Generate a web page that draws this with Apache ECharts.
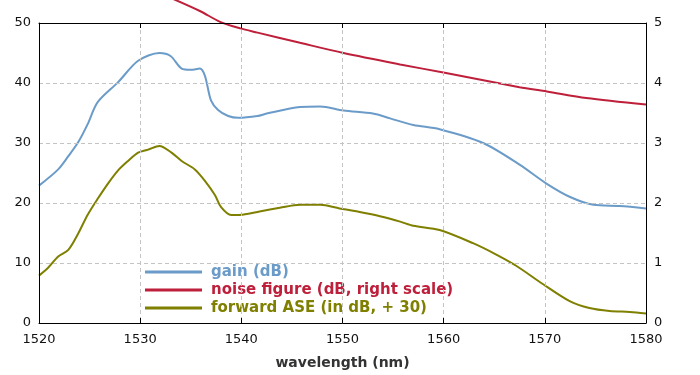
<!DOCTYPE html>
<html>
<head>
<meta charset="utf-8">
<script src="https://cdn.jsdelivr.net/npm/echarts@6/dist/echarts.min.js"></script>
<style>
  html, body { margin: 0; padding: 0; background: #fff; }
  #chart { width: 700px; height: 375px; }
</style>
</head>
<body>
<div id="chart"></div>
<script>
// wavelength (nm), value pairs
const gainData = [
  [1520, 22.9], [1521.9, 25.6], [1522.9, 27.8], [1523.9, 30.2], [1524.8, 33.1], [1525.8, 36.8],
  [1527.8, 40.1], [1529.8, 43.7], [1531.9, 45.0], [1533.0, 44.5], [1534.1, 42.4], [1535.0, 42.2],
  [1535.9, 42.4], [1536.4, 41.2], [1537.0, 37.1], [1537.7, 35.5], [1538.7, 34.5],
  [1539.7, 34.2], [1541.6, 34.5], [1542.5, 34.9], [1545.8, 36.0], [1547.8, 36.1],
  [1550.1, 35.4], [1553.0, 34.9], [1554.7, 34.1], [1557.0, 33.0], [1559.6, 32.3],
  [1563.9, 30.0], [1567.5, 26.4], [1570.2, 23.2], [1572.5, 21.0],
  [1574.8, 19.7], [1577.4, 19.5], [1580, 19.1]
];
const noiseData = [
  [1533.0, 5.42], [1535.9, 5.20], [1537.9, 5.02], [1539.9, 4.91], [1541.6, 4.84],
  [1545.8, 4.67], [1550.1, 4.50], [1555.7, 4.31], [1560.1, 4.17], [1567.5, 3.93],
  [1570.2, 3.86], [1574.1, 3.75], [1580, 3.64]
];
const aseData = [
  [1520, 7.9], [1520.9, 9.2], [1521.9, 11.1], [1522.9, 12.2], [1523.9, 15.0],
  [1524.8, 18.0], [1525.8, 20.7], [1526.8, 23.2], [1527.8, 25.4], [1528.8, 27.0],
  [1529.8, 28.4], [1530.8, 28.9], [1531.9, 29.5], [1533.1, 28.4], [1534.1, 27.0],
  [1535.4, 25.6], [1536.4, 23.7], [1537.4, 21.3], [1538.0, 19.3], [1539.0, 18.0],
  [1539.7, 18.0], [1540.7, 18.2], [1541.8, 18.6], [1543.8, 19.2], [1545.8, 19.7],
  [1547.8, 19.7], [1549.7, 19.1], [1551.7, 18.5], [1553.7, 17.8], [1555.7, 16.9],
  [1557.0, 16.2], [1559.6, 15.5], [1562.9, 13.3], [1565.2, 11.4],
  [1567.2, 9.5], [1569.8, 6.5], [1572.5, 3.6], [1574.4, 2.5], [1576.4, 2.0],
  [1578.4, 1.85], [1580, 1.6]
];
const seriesNames = ["gain (dB)", "noise figure (dB, right scale)", "forward ASE (in dB, + 30)"];
const seriesColors = ["#6b9bc8", "#be1f3a", "#7f7f00"];

const chart = echarts.init(document.getElementById("chart"));
const font = "DejaVu Sans, Verdana, sans-serif";
const splitStyle = { show: true, lineStyle: { color: "#c4c4c4", type: [4, 3], width: 1 } };
const frame = { show: true, onZero: false, lineStyle: { color: "#000", width: 1 } };

chart.setOption({
  animation: false,
  grid: { left: 39, right: 54, top: 23, bottom: 47 },
  legend: {
    orient: "vertical",
    left: 140,
    top: 258,
    itemWidth: 57,
    itemHeight: 3,
    itemGap: 0,
    icon: "rect",
    textStyle: { fontFamily: font, fontSize: 15, fontWeight: "bold", lineHeight: 18, padding: [0, 0, 0, 4] },
    data: seriesNames.map((n, i) => ({ name: n, textStyle: { color: seriesColors[i] } }))
  },
  xAxis: [
    {
      type: "value", min: 1520, max: 1580, interval: 10, z: 5,
      name: "wavelength (nm)", nameLocation: "middle", nameGap: 33,
      nameTextStyle: { fontFamily: font, fontSize: 14, fontWeight: "bold", color: "#333" },
      axisLine: frame,
      axisTick: { inside: true, length: 5, lineStyle: { color: "#000" } },
      axisLabel: { fontFamily: font, fontSize: 13, color: "#111", margin: 10, formatter: v => String(v) },
      splitLine: splitStyle
    },
    {
      type: "value", position: "top", min: 1520, max: 1580, interval: 10, z: 5,
      axisLine: frame,
      axisTick: { inside: true, length: 5, lineStyle: { color: "#000" } },
      axisLabel: { show: false }, splitLine: { show: false }
    }
  ],
  yAxis: [
    {
      type: "value", min: 0, max: 50, interval: 10, z: 5,
      axisLine: frame,
      axisTick: { show: false },
      axisLabel: { fontFamily: font, fontSize: 13, color: "#111", margin: 8 },
      splitLine: splitStyle
    },
    {
      type: "value", min: 0, max: 5, interval: 1, z: 5,
      axisLine: frame,
      axisTick: { show: false },
      axisLabel: { fontFamily: font, fontSize: 13, color: "#111", margin: 8 },
      splitLine: { show: false }
    }
  ],
  series: [
    { name: seriesNames[0], type: "line", data: gainData, smooth: 0.3, showSymbol: false,
      color: seriesColors[0], lineStyle: { width: 2 } },
    { name: seriesNames[1], type: "line", yAxisIndex: 1, data: noiseData, smooth: 0.3, showSymbol: false,
      clip: false, color: seriesColors[1], lineStyle: { width: 2 } },
    { name: seriesNames[2], type: "line", data: aseData, smooth: 0.3, showSymbol: false,
      color: seriesColors[2], lineStyle: { width: 2 } }
  ]
});
</script>
</body>
</html>
